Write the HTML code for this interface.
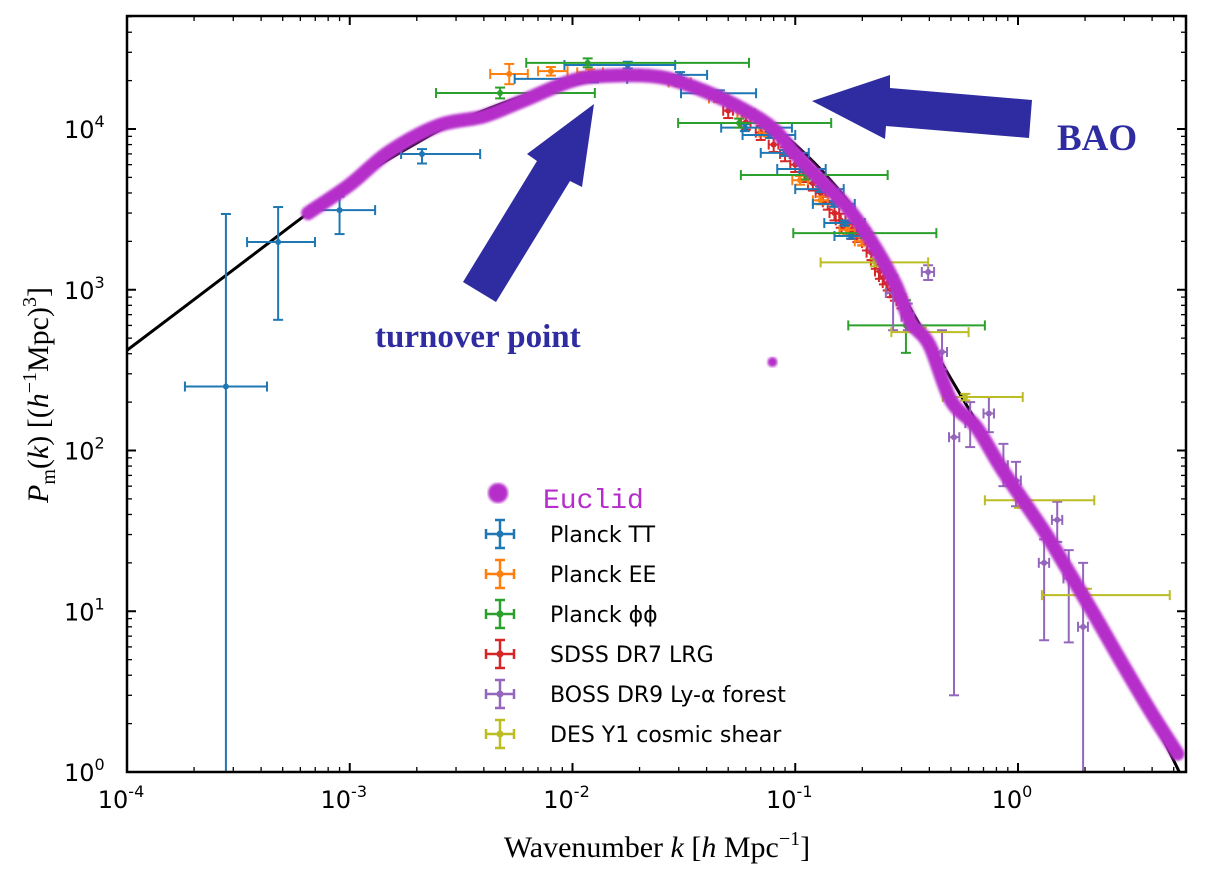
<!DOCTYPE html>
<html><head><meta charset="utf-8">
<style>
html,body{margin:0;padding:0;background:#fff;}
svg{display:block;}
.tick{font-family:"DejaVu Sans","Liberation Sans",sans-serif;font-size:24px;fill:#000;}
.serif{font-family:"Liberation Serif","DejaVu Serif",serif;}
</style></head>
<body>
<svg id="chart" width="1209" height="882" viewBox="0 0 1209 882" xmlns="http://www.w3.org/2000/svg">
<defs>
<clipPath id="plotclip"><rect x="127" y="16" width="1059" height="756"/></clipPath>
<filter id="soft" x="-5%" y="-5%" width="110%" height="110%"><feGaussianBlur stdDeviation="1.2"/></filter>
</defs>
<g id="plot" clip-path="url(#plotclip)"></g>
<g id="axes"></g>
<g>
<polygon points="594,104 582,187 570,181 496,302 463,282 537,161 527,154" fill="#2e2ca0"/>
<text x="375" y="347" class="serif" font-size="33" font-weight="bold" fill="#2e2ca0">turnover point</text>
<polygon points="812,101 890,75 890,88 1032,100 1029,138 886,126 885,139" fill="#2e2ca0"/>
<text x="1057" y="150" class="serif" font-size="37" font-weight="bold" fill="#2e2ca0">BAO</text>
</g>
<g id="legend"></g>
<text x="657" y="857" text-anchor="middle" class="serif" font-size="30">Wavenumber <tspan font-style="italic">k</tspan> [<tspan font-style="italic">h</tspan> Mpc<tspan dy="-12" font-size="20">−1</tspan><tspan dy="12">]</tspan></text>
<text transform="translate(48,395) rotate(-90)" text-anchor="middle" class="serif" font-size="30"><tspan font-style="italic">P</tspan><tspan dy="7" font-size="20">m</tspan><tspan dy="-7">(</tspan><tspan font-style="italic">k</tspan>) [(<tspan font-style="italic">h</tspan><tspan dy="-12" font-size="20">−1</tspan><tspan dy="12">Mpc)</tspan><tspan dy="-12" font-size="20">3</tspan><tspan dy="12">]</tspan></text>
</svg>
<script>
// ---- data ----
const xTickExps = [-4, -3, -2, -1, 0];
const yTickExps = [0, 1, 2, 3, 4];
const theoryK = [1e-4,3e-4,6.5e-4,1e-3,2e-3,3e-3,6e-3,0.01,0.015,0.02,0.03,0.04,0.05,0.07,0.1,0.15,0.2,0.3,0.5,1,2,3,4,5.3];
const theoryP = [420,1330,3000,4600,8200,11000,16000,19000,20800,21000,19500,17000,14500,11500,8000,4500,2600,950,280,55,11,4.5,2.2,1];
const euclidK = [6.5e-4,1e-3,1.5e-3,2.5e-3,4e-3,6e-3,0.01,0.015,0.025,0.04,0.06,0.08,0.1,0.13,0.17,0.22,0.28,0.33,0.4,0.5,0.65,0.85,1.3,1.6,2.2,3,4,5.2];
const euclidP = [3000,4500,7200,10500,12000,15000,20000,21500,21000,17000,13000,10000,7000,4800,3300,2000,1100,630,454,205,140,76,32,20,9.5,4.5,2.3,1.3];
const euclidStrayK = [0.079];
const euclidStrayP = [355];
// rows: [k, P, kLow, kHigh, PLow, PHigh]
const planckTT = [
 [2.78e-4,250,1.82e-4,4.25e-4,1,2960],
 [4.77e-4,1980,3.46e-4,6.98e-4,650,3270],
 [9.0e-4,3130,6.6e-4,1.3e-3,2220,3800],
 [2.11e-3,6990,1.7e-3,3.85e-3,6100,7500],
 [0.0125,20500,5.5e-3,0.0176,19500,21500],
 [0.0177,25000,9.2e-3,0.0289,23800,26200],
 [0.0304,21700,0.0201,0.0402,20800,22600],
 [0.0459,16700,0.0307,0.0667,16000,17400],
 [0.0594,10200,0.0465,0.0966,9700,10700],
 [0.077,9180,0.058,0.1,8800,9600],
 [0.09,7100,0.07,0.115,6800,7400],
 [0.107,5640,0.083,0.137,5400,5900],
 [0.129,4230,0.1,0.165,4050,4400],
 [0.149,3420,0.12,0.185,3280,3560],
 [0.167,2600,0.135,0.205,2500,2700],
 [0.178,2160,0.15,0.22,2080,2240]
];
const planckEE = [
 [0.0052,22000,4.27e-3,6.3e-3,19000,25400],
 [0.008,22900,7.0e-3,9.5e-3,21500,24300],
 [0.012,22500,0.0105,0.0137,21500,23500],
 [0.03,19500,0.027,0.034,18500,20500],
 [0.045,15500,0.041,0.05,14700,16300],
 [0.06,12500,0.055,0.066,11800,13200],
 [0.075,9500,0.069,0.082,9000,10000],
 [0.105,4800,0.097,0.114,4500,5100],
 [0.13,3600,0.12,0.14,3400,3800],
 [0.171,2360,0.158,0.185,2200,2500],
 [0.2,2000,0.185,0.215,1880,2120]
];
const planckPP = [
 [4.73e-3,16750,2.44e-3,0.0126,15500,18100],
 [0.0117,25800,6.2e-3,0.062,24200,27500],
 [0.056,10900,0.0298,0.145,10200,11600],
 [0.112,5170,0.057,0.26,4850,5500],
 [0.206,2250,0.098,0.43,2100,2400],
 [0.314,600,0.173,0.71,405,860]
];
const sdssLRG = [
 [0.05,13000],[0.06,11000],[0.07,9500],[0.08,8000],[0.09,7000],[0.1,6000],[0.11,5200],
 [0.12,4600],[0.13,4000],[0.14,3500],[0.15,3000],[0.16,2700],[0.17,2400],[0.18,2300],
 [0.19,2200],[0.2,2100],[0.21,1950],[0.22,1700],[0.23,1500],[0.24,1300],[0.25,1200],
 [0.26,1100],[0.27,1000],[0.28,950],[0.3,850]
];
const bossLya = [
 [0.395,1290,0.37,0.42,1150,1420],
 [0.275,955,0.255,0.295,560,1230],
 [0.32,680,0.3,0.34,560,820],
 [0.456,410,0.43,0.48,320,560],
 [0.516,121,0.49,0.545,3,215],
 [0.61,148,0.58,0.64,105,200],
 [0.74,170,0.7,0.78,130,215],
 [0.86,81,0.82,0.9,60,110],
 [0.98,65,0.93,1.03,45,85],
 [1.5,37,1.42,1.58,27,48],
 [1.31,20,1.24,1.38,6.6,28],
 [1.69,16,1.6,1.78,6.4,24],
 [1.96,8,1.86,2.06,0.5,20]
];
const desY1 = [
 [0.228,1480,0.13,0.395,1400,1560],
 [0.37,545,0.27,0.6,510,580],
 [0.58,215,0.46,1.05,205,225],
 [1.01,49,0.71,2.2,44,54],
 [2.04,12.6,1.28,4.8,11.5,13.8]
];
const legendLabels = ["Planck TT","Planck EE","Planck \u03d5\u03d5","SDSS DR7 LRG","BOSS DR9 Ly-\u03b1 forest","DES Y1 cosmic shear"];
const legendColors = ["#1f77b4","#ff7f0e","#2ca02c","#d62728","#9467bd","#bcbd22"];

// ---- scales ----
const X0=127, X1=1186, Y0=16, Y1=772;
const DX=222.75, DY=160.75;
function xs(k){return X0 + DX*(Math.log10(k)+4);}
function ys(p){return 129 - DY*(Math.log10(p)-4);}
const NS="http://www.w3.org/2000/svg";
function mk(tag, attrs, parent){const e=document.createElementNS(NS,tag);for(const a in attrs)e.setAttribute(a,attrs[a]);parent.appendChild(e);return e;}
const plot=document.getElementById('plot');
const axes=document.getElementById('axes');
const legend=document.getElementById('legend');

// smooth path through points (Catmull-Rom)
function smoothPath(pts){
  let s='M'+pts[0][0].toFixed(1)+','+pts[0][1].toFixed(1);
  for(let i=0;i<pts.length-1;i++){
    const p0=pts[Math.max(0,i-1)],p1=pts[i],p2=pts[i+1],p3=pts[Math.min(pts.length-1,i+2)];
    const c1x=p1[0]+(p2[0]-p0[0])/6,c1y=p1[1]+(p2[1]-p0[1])/6;
    const c2x=p2[0]-(p3[0]-p1[0])/6,c2y=p2[1]-(p3[1]-p1[1])/6;
    s+=' C'+c1x.toFixed(1)+','+c1y.toFixed(1)+' '+c2x.toFixed(1)+','+c2y.toFixed(1)+' '+p2[0].toFixed(1)+','+p2[1].toFixed(1);
  }
  return s;
}

// theory line
let d=smoothPath(theoryK.map((k,i)=>[xs(k),ys(theoryP[i])]));
const tl=mk('path',{d:d,fill:'none',stroke:'#000','stroke-width':3,'stroke-linejoin':'round'},plot);



function drawSeries(rows,color,name,full){
  const g=mk('g',{},plot);
  
  
  rows.forEach(r=>{
    const k=r[0],p=r[1];
    const kl=full?r[2]:k*0.95, kh=full?r[3]:k*1.05, pl=full?r[4]:p*0.9, ph=full?r[5]:p*1.1;
    const cx=xs(k), cy=ys(p), x1=xs(kl), x2=xs(kh), y1=ys(pl), y2=ys(ph);
    mk('line',{x1:x1,y1:cy,x2:x2,y2:cy,stroke:color,'stroke-width':2},g);
    mk('line',{x1:cx,y1:y1,x2:cx,y2:y2,stroke:color,'stroke-width':2},g);
    mk('line',{x1:x1,y1:cy-5,x2:x1,y2:cy+5,stroke:color,'stroke-width':2},g);
    mk('line',{x1:x2,y1:cy-5,x2:x2,y2:cy+5,stroke:color,'stroke-width':2},g);
    mk('line',{x1:cx-5,y1:y1,x2:cx+5,y2:y1,stroke:color,'stroke-width':2},g);
    mk('line',{x1:cx-5,y1:y2,x2:cx+5,y2:y2,stroke:color,'stroke-width':2},g);
    mk('circle',{cx:cx,cy:cy,r:3,fill:color},g);
  });
}
drawSeries(sdssLRG,'#d62728','sdss-dr7-lrg-points',false);
drawSeries(planckEE,'#ff7f0e','planck-ee-points',true);
drawSeries(planckTT,'#1f77b4','planck-tt-points',true);
drawSeries(planckPP,'#2ca02c','planck-phiphi-points',true);
drawSeries(bossLya,'#9467bd','boss-dr9-lya-points',true);
drawSeries(desY1,'#bcbd22','des-y1-shear-points',true);

// Euclid band
d=smoothPath(euclidK.map((k,i)=>[xs(k),ys(euclidP[i])]));
const eu=mk('path',{d:d,fill:'none',stroke:'#b52dca','stroke-width':14,'stroke-linecap':'round','stroke-linejoin':'round',filter:'url(#soft)'},plot);


euclidStrayK.forEach((k,i)=>{
  const c=mk('circle',{cx:xs(k),cy:ys(euclidStrayP[i]),r:5,fill:'#b52dca',filter:'url(#soft)'},plot);
  
  
});

// frame
const fr=mk('rect',{x:X0,y:Y0,width:X1-X0,height:Y1-Y0,fill:'none',stroke:'#000','stroke-width':2.5},axes);


for(let e=-4;e<=0;e++){
  for(let m=1;m<10;m++){
    const x=xs(m*Math.pow(10,e)); if(x>X1) continue;
    const L=m===1?9:5;
    mk('line',{x1:x,y1:Y1,x2:x,y2:Y1-L,stroke:'#000','stroke-width':m===1?2:1.3},axes);
    mk('line',{x1:x,y1:Y0,x2:x,y2:Y0+L,stroke:'#000','stroke-width':m===1?2:1.3},axes);
  }
}
xTickExps.forEach(e=>{
  const t=mk('text',{x:xs(Math.pow(10,e))-6,y:808,'text-anchor':'middle',class:'tick'},axes);
  
  
  t.innerHTML='10<tspan dy="-11" font-size="16">'+(e<0?'-'+(-e):e)+'</tspan>';
});
for(let e=0;e<=4;e++){
  for(let m=1;m<10;m++){
    const y=ys(m*Math.pow(10,e)); if(y<Y0) continue;
    const L=m===1?9:5;
    mk('line',{x1:X0,y1:y,x2:X0+L,y2:y,stroke:'#000','stroke-width':m===1?2:1.3},axes);
    mk('line',{x1:X1,y1:y,x2:X1-L,y2:y,stroke:'#000','stroke-width':m===1?2:1.3},axes);
  }
}
yTickExps.forEach(e=>{
  const t=mk('text',{x:64,y:ys(Math.pow(10,e))+9,class:'tick'},axes);
  
  
  t.innerHTML='10<tspan dy="-11" font-size="16">'+e+'</tspan>';
});

// legend
const ec=mk('circle',{cx:498,cy:493,r:10,fill:'#b52dca',filter:'url(#soft)'},legend);


const et=mk('text',{x:543,y:508,'font-family':'"Liberation Mono",monospace','font-size':28,fill:'#b52dca'},legend);
et.textContent='Euclid';


legendLabels.forEach((lab,i)=>{
  const cy=534+i*40, c=legendColors[i];
  const g=mk('g',{},legend);
  
  
  mk('line',{x1:486,y1:cy,x2:514,y2:cy,stroke:c,'stroke-width':2.5},g);
  mk('line',{x1:500,y1:cy-14,x2:500,y2:cy+14,stroke:c,'stroke-width':2.5},g);
  mk('line',{x1:486,y1:cy-5,x2:486,y2:cy+5,stroke:c,'stroke-width':2.5},g);
  mk('line',{x1:514,y1:cy-5,x2:514,y2:cy+5,stroke:c,'stroke-width':2.5},g);
  mk('line',{x1:495,y1:cy-14,x2:505,y2:cy-14,stroke:c,'stroke-width':2.5},g);
  mk('line',{x1:495,y1:cy+14,x2:505,y2:cy+14,stroke:c,'stroke-width':2.5},g);
  mk('circle',{cx:500,cy:cy,r:3.5,fill:c},g);
  const t=mk('text',{x:550,y:cy+8,'font-family':'"DejaVu Sans","Liberation Sans",sans-serif','font-size':22,fill:'#000'},g);
  t.textContent=lab;
});
</script>
</body></html>
